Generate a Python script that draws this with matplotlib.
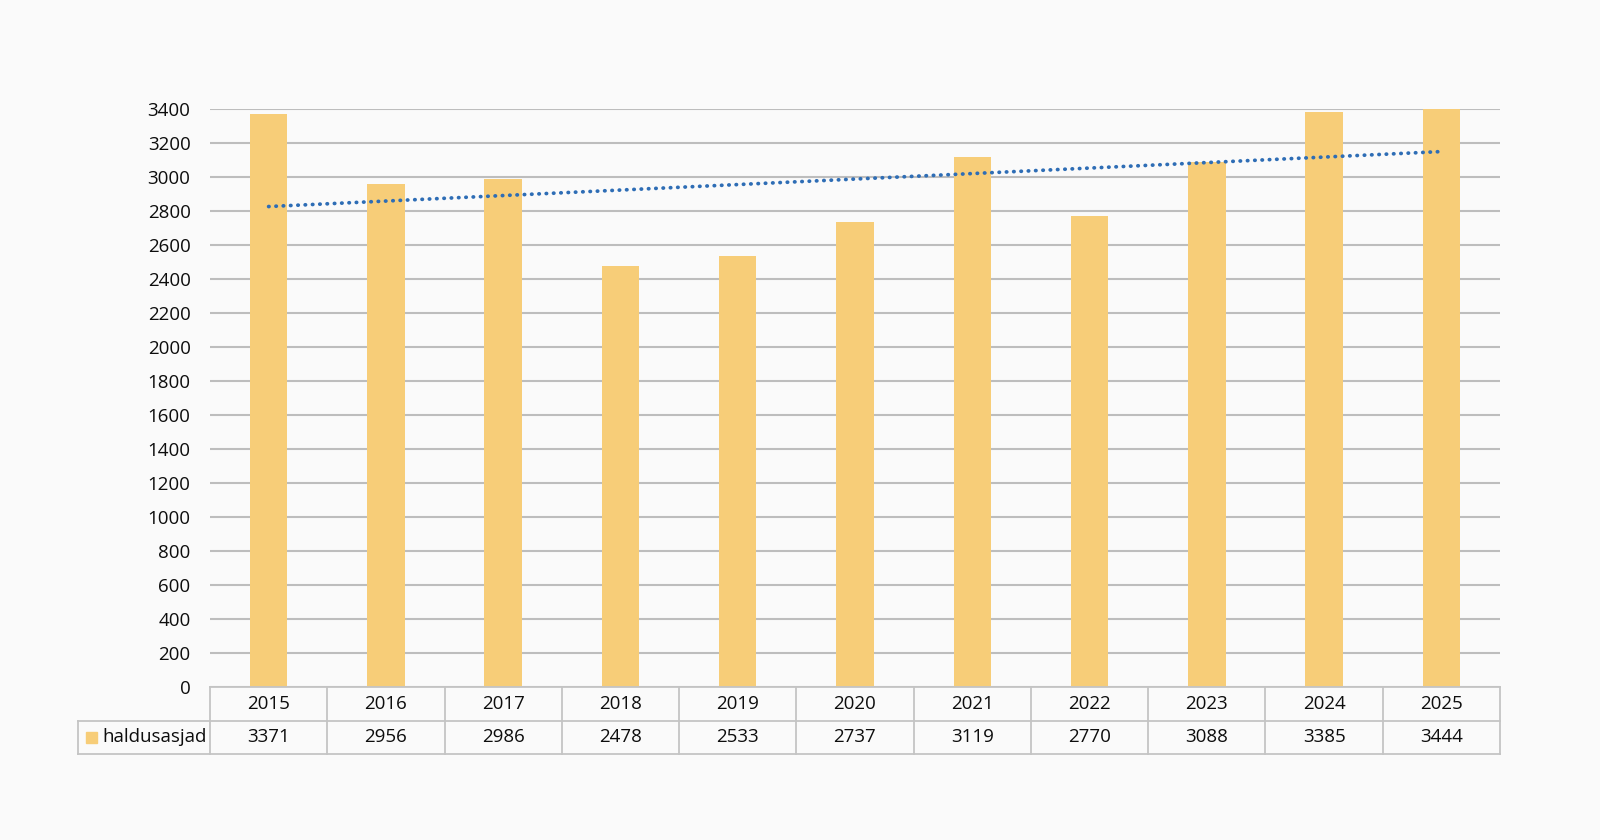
import numpy as np
import matplotlib
matplotlib.use("Agg")
import matplotlib.pyplot as plt

# ── DATA ────────────────────────────────────────────────────
years  = ["2015", "2016", "2017", "2018", "2019", "2020",
          "2021", "2022", "2023", "2024", "2025"]
values = [3371, 2956, 2986, 2478, 2533, 2737, 3119, 2770, 3088, 3385, 3444]
series_name = "haldusasjad"
yticks = list(range(0, 3401, 200))

# ── STYLE ───────────────────────────────────────────────────
BG        = "#FAFAFA"
BAR_COLOR = "#F7CD78"
TREND     = "#2E6DB5"
GRID      = "#BDBDBD"
BORDER    = "#C4C4C4"
TXT       = "#0D0D0D"
FS        = 13.5

plt.rcParams["font.family"] = ["Open Sans", "DejaVu Sans"]

W, H = 1600, 840
fig = plt.figure(figsize=(16, 8.4), dpi=100, facecolor=BG)

# main axes (pixel box: x 210..1500, y 109..687)
L, R, T, B = 210, 1500, 109, 687
ax = fig.add_axes([L / W, 1 - B / H, (R - L) / W, (B - T) / H])
ax.set_facecolor(BG)

x = np.arange(len(years))
ax.bar(x, values, width=0.32, color=BAR_COLOR, zorder=2)

# linear trendline
k, b = np.polyfit(x, values, 1)
ax.plot(x, k * x + b, color=TREND, lw=2.7, linestyle=(0, (0.1, 1.85)),
        dash_capstyle="round", zorder=3)

ax.set_xlim(-0.5, len(years) - 0.5)
ax.set_ylim(0, 3400)
ax.set_yticks(yticks)
ax.set_yticklabels([str(v) for v in yticks], fontsize=FS, color=TXT)
ax.tick_params(axis="y", length=0, pad=14)
ax.set_xticks([])
ax.yaxis.grid(True, color=GRID, lw=1.5, zorder=0)
for s in ax.spines.values():
    s.set_visible(False)

# ── DATA TABLE under the axes ───────────────────────────────
TL, TB = 78, 754
cat_px = (R - L) / len(years)
left_ext = (L - TL) / cat_px
tax = fig.add_axes([TL / W, 1 - TB / H, (R - TL) / W, (TB - B) / H])
tax.set_xlim(-0.5 - left_ext, len(years) - 0.5)
tax.set_ylim(0, 2)
tax.axis("off")

x0, x1, xe = -0.5 - left_ext, -0.5, len(years) - 0.5
lk = dict(color=BORDER, lw=1.3, clip_on=False)
tax.plot([x1, xe], [2, 2], **lk)
tax.plot([x0, xe], [1, 1], **lk)
tax.plot([x0, xe], [0, 0], **lk)
tax.plot([x0, x0], [0, 1], **lk)
for i in range(len(years) + 1):
    tax.plot([i - 0.5, i - 0.5], [0, 2], **lk)

for i, (yr, v) in enumerate(zip(years, values)):
    tax.text(i, 1.5, yr, ha="center", va="center", fontsize=FS, color=TXT)
    tax.text(i, 0.5, str(v), ha="center", va="center", fontsize=FS, color=TXT)

# legend key + series name
sw = 11 / cat_px
tax.add_patch(plt.Rectangle((x0 + 8 / cat_px, 0.5 - 0.17), sw, 0.34,
                            color=BAR_COLOR, clip_on=False))
tax.text(x0 + 24 / cat_px, 0.5, series_name, ha="left", va="center",
         fontsize=FS, color=TXT)

fig.savefig("out.png", dpi=100, facecolor=BG)
